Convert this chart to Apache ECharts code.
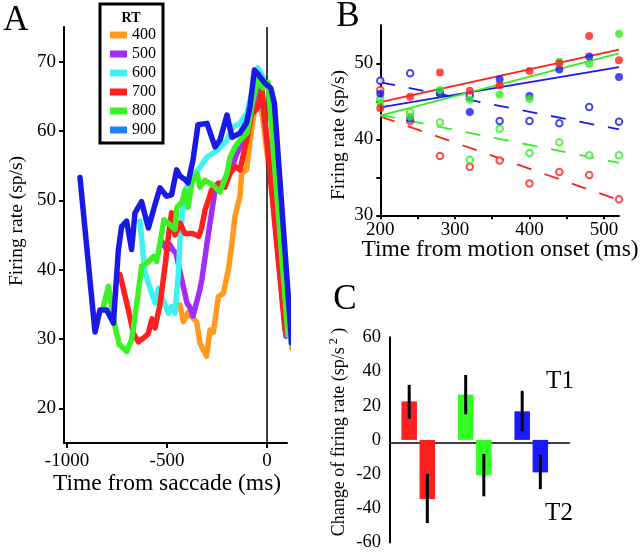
<!DOCTYPE html>
<html><head><meta charset="utf-8">
<script src="https://cdn.jsdelivr.net/npm/echarts@6/dist/echarts.min.js"></script>
<style>html,body{margin:0;padding:0;background:#fff}#c{width:640px;height:552px}</style>
</head><body><div id="c"></div>
<script>
// ---------- Panel A data: firing rate vs time from saccade, by RT ----------
const rtLabels = ['400','500','600','700','800','900'];
const rt400T = [-435,-418,-395,-377,-352,-335,-302,-285,-268,-243,-218,-193,-177,-160,-135,-127,-102,-77,-60,-42,125];
const rt400V = [34.9,32.5,33.8,33.2,32.5,29.4,27.5,31.3,31.0,36.1,36.6,40.0,43.4,47.7,50.6,53.9,54.4,60.2,63.5,66.4,28.6];
const rt500T = [-525,-500,-485,-470,-455,-425,-400,-385,-370,-350,-335,-325,-300,-285,-260,-225,-185,-150,-100,-50,-20,5,95];
const rt500V = [44.0,42.8,43.6,42.8,42.4,38.4,35.2,34.5,33.3,35.5,37.2,38.7,43.8,46.7,51.4,52.5,53.9,56.8,59.7,66.4,63.5,57.7,30.4];
const rt600T = [-635,-610,-560,-543,-493,-477,-460,-443,-435,-425,-410,-375,-335,-300,-250,-200,-170,-135,-100,-70,-45,-20,5,123];
const rt600V = [47.0,39.5,35.2,37.3,33.7,34.7,33.7,39.5,44.3,47.5,51.4,53.3,54.8,56.2,57.2,58.7,60.6,61.1,62.6,66.4,69.1,67.8,67.0,29.2];
const rt700T = [-735,-693,-668,-643,-620,-595,-575,-560,-535,-510,-493,-477,-460,-435,-410,-370,-342,-327,-310,-292,-277,-243,-210,-185,-160,-135,-98,-78,-53,-35,-25,90];
const rt700V = [39.3,34.2,30.8,29.6,30.1,30.7,32.9,31.6,35.0,40.5,44.8,48.2,45.0,46.7,45.2,45.2,44.8,46.0,48.6,50.1,51.5,52.5,51.9,53.9,54.9,54.4,59.2,62.4,63.1,64.5,66.0,31.3];
const rt800T = [-818,-793,-785,-760,-738,-702,-677,-648,-627,-598,-568,-552,-535,-515,-493,-460,-450,-425,-410,-395,-375,-350,-335,-310,-270,-235,-200,-185,-160,-135,-100,-70,-45,-20,5,105];
const rt800V = [34.7,37.6,36.1,31.8,29.2,28.2,29.9,35.7,40.5,41.0,41.9,41.2,43.8,47.2,46.7,45.8,49.0,49.7,51.4,49.0,52.6,53.9,51.9,52.9,52.2,51.2,53.9,56.2,57.7,58.7,59.7,64.5,67.4,66.2,67.0,30.5];
const rt900T = [-935,-860,-835,-802,-768,-743,-727,-702,-677,-660,-627,-593,-560,-535,-502,-477,-452,-435,-410,-395,-370,-345,-300,-260,-235,-200,-175,-135,-102,-85,-63,-42,-11,19,37,123];
const rt900V = [53.3,31.0,34.2,34.2,32.3,42.9,46.2,47.0,42.9,48.2,49.8,46.0,49.4,51.8,50.6,50.8,54.4,53.5,53.0,52.5,55.8,60.9,61.1,57.7,58.7,62.3,59.1,59.7,61.2,63.5,68.8,68.1,66.9,66.2,64.0,29.4];
const aXTicks = [-1000,-500,0];
const aYTicks = [20,30,40,50,60,70];

// ---------- Panel B data: firing rate vs time from motion onset ----------
const motionT = [200,240,280,320,360,400,440,480,520];
const redT1   = [44.1,45.6,48.8,46.4,47.1,49.0,50.0,53.6,50.4];
const redT2   = [46.5,42.4,37.8,36.4,37.2,34.2,35.7,35.3,32.1];
const greenT1 = [44.8,43.0,46.5,45.2,45.9,45.3,50.2,49.9,53.9];
const greenT2 = [45.3,43.6,42.2,37.3,41.4,38.2,39.6,37.9,37.9];
const blueT1  = [46.0,42.7,46.2,43.6,47.9,45.7,49.2,50.9,48.2];
const blueT2  = [47.7,48.7,46.0,45.8,42.4,42.4,42.1,44.25,42.3];
const fitT = [200,520];
const redFitT1 = [44.9,51.8];
const greenFitT1 = [43.1,51.3];
const blueFitT1 = [44.2,49.5];
const redFitT2 = [43.0,32.0];
const greenFitT2 = [43.2,36.9];
const blueFitT2 = [47.5,41.3];
const bXTicks = [200,250,300,350,400,450,500];
const bXLabels = [200,300,400,500];
const bYTicks = [30,35,40,45,50];
const bYLabels = [30,40,50];

// ---------- Panel C data: change of firing rate ----------
const cGroups = ['red','green','blue'];
const cT1 = [22.5,26.5,16.7];
const cT2 = [-34.5,-20.6,-19.0];
const cT1Lo = [12.4,15.0,5.1];
const cT1Hi = [32.2,38.0,28.7];
const cT2Lo = [-48.6,-33.0,-28.8];
const cT2Hi = [-20.0,-8.2,-8.6];

// ---------- styles ----------
const SERIF = 'Liberation Serif';
const rtLineColors = ['#ff9a1e','#a12ef7','#3ff2f2','#ff1f1f','#3cf226','#1a1ae6'];
const rtLegendColors = ['#ff9a1e','#a12ef7','#3ff2f2','#ff1f1f','#3cf226','#1f80ff'];
const C = {red:'#ff1f1f', green:'#33ee22', blue:'#1a1aee'};
const cBarColors = ['#ff1f1f','#33ff22','#1a1aff'];
const BARW = 15.5, GAPPCT = 17;
const OFF = BARW/2 + BARW*GAPPCT/100/2;

const zip = (a,b) => a.map((x,i)=>[x,b[i]]);

const aSeriesData = [[rt400T,rt400V],[rt500T,rt500V],[rt600T,rt600V],[rt700T,rt700V],[rt800T,rt800V],[rt900T,rt900V]];
const series = [];
aSeriesData.forEach((d,i)=>{
  series.push({
    name: rtLabels[i], type:'line', xAxisIndex:0, yAxisIndex:0,
    data: zip(d[0],d[1]), showSymbol:false, symbol:'none', clip:false,
    lineStyle:{width:5.5, color:rtLineColors[i], join:'round', cap:'round'},
    itemStyle:{color:rtLineColors[i]}, z: 2+i, silent:true,
    markLine: i===0 ? {silent:true, symbol:'none', label:{show:false},
      lineStyle:{color:'#000', width:1.5, type:'solid'}, data:[{xAxis:0}]} : undefined
  });
});

function fitLine(vals, color, dashed){
  return {type:'line', xAxisIndex:1, yAxisIndex:1, data: zip(fitT, vals), symbol:'none', silent:true,
    lineStyle:{width:1.8, color, type: dashed ? [15,14] : 'solid'}, z:2};
}
function pts(vals, color, open){
  return {type:'scatter', xAxisIndex:1, yAxisIndex:1, data: zip(motionT, vals), silent:true,
    symbol: open ? 'emptyCircle' : 'circle', symbolSize: open ? 6.5 : 8,
    itemStyle: open ? {color, borderColor: color, borderWidth:1.6} : {color}, z:3};
}
series.push(fitLine(redFitT2,C.red,true), fitLine(greenFitT2,C.green,true), fitLine(blueFitT2,C.blue,true));
series.push(fitLine(blueFitT1,C.blue,false), fitLine(greenFitT1,C.green,false), fitLine(redFitT1,C.red,false));
series.push(pts(redT2,C.red,true), pts(greenT2,C.green,true), pts(blueT2,C.blue,true));
series.push(pts(blueT1,C.blue,false), pts(greenT1,C.green,false), pts(redT1,C.red,false));

series.push({type:'bar', name:'T1', xAxisIndex:2, yAxisIndex:2, barWidth:BARW, barGap:GAPPCT+'%', silent:true,
  data: cT1.map((v,i)=>({value:v, itemStyle:{color:cBarColors[i]}}))});
series.push({type:'bar', name:'T2', xAxisIndex:2, yAxisIndex:2, barWidth:BARW, barGap:GAPPCT+'%', silent:true,
  data: cT2.map((v,i)=>({value:v, itemStyle:{color:cBarColors[i]}}))});
function errSeries(lo, hi, sign){
  return {type:'custom', xAxisIndex:2, yAxisIndex:2, silent:true, z:5,
    data: lo.map((l,i)=>[i,l,hi[i]]), encode:{x:0, y:[1,2]},
    renderItem:(params, api)=>{
      const i = api.value(0);
      const a = api.coord([i, api.value(1)]);
      const b = api.coord([i, api.value(2)]);
      return {type:'line', shape:{x1:a[0]+sign*OFF, y1:a[1], x2:b[0]+sign*OFF, y2:b[1]},
        style:{stroke:'#000', lineWidth:3}};
    }};
}
series.push(errSeries(cT1Lo,cT1Hi,-1), errSeries(cT2Lo,cT2Hi,1));

const axLine = {show:true, onZero:false, lineStyle:{color:'#000', width:2}};
const tickStyle = {color:'#000', width:2};
const lab = (extra)=>Object.assign({fontFamily:SERIF, color:'#000', fontSize:19, formatter:(v)=>String(v)}, extra);

const option = {
  animation:false,
  backgroundColor:'#fff',
  grid:[
    {left:64, top:27, width:223, height:416},
    {left:380.3, top:25.3, width:238.7, height:190},
    {left:390, top:337.3, width:169.5, height:210},
    {left:390, top:337.3, width:179.3, height:210}
  ],
  xAxis:[
    {gridIndex:0, type:'value', min:-1015, max:100, axisLine:axLine,
      axisTick:{customValues:aXTicks, length:5, lineStyle:tickStyle},
      axisLabel:lab({customValues:aXTicks, margin:9}), splitLine:{show:false}},
    {gridIndex:1, type:'value', min:200, max:520, axisLine:axLine,
      axisTick:{customValues:bXTicks, length:4, lineStyle:tickStyle},
      axisLabel:lab({customValues:bXLabels, margin:5}), splitLine:{show:false}},
    {gridIndex:2, type:'category', data:cGroups, axisLine:{show:false}, axisTick:{show:false},
      axisLabel:{show:false}, splitLine:{show:false}},
    {gridIndex:3, type:'value', min:0, max:1, axisLine:{show:true, onZero:true, lineStyle:{color:'#000', width:1.5}},
      axisTick:{show:false}, axisLabel:{show:false}, splitLine:{show:false}}
  ],
  yAxis:[
    {gridIndex:0, type:'value', min:15, max:75, axisLine:axLine,
      axisTick:{customValues:aYTicks, length:5, lineStyle:tickStyle},
      axisLabel:lab({customValues:aYTicks, margin:8}), splitLine:{show:false}},
    {gridIndex:1, type:'value', min:30, max:55, axisLine:axLine,
      axisTick:{customValues:bYTicks, length:4, lineStyle:tickStyle},
      axisLabel:lab({customValues:bYLabels, margin:7}), splitLine:{show:false}},
    {gridIndex:2, type:'value', min:-60, max:60, interval:20, axisLine:axLine,
      axisTick:{length:4, lineStyle:tickStyle},
      axisLabel:lab({fontSize:18.5, margin:9}), splitLine:{show:false}},
    {gridIndex:3, type:'value', min:-60, max:60, show:false, splitLine:{show:false}}
  ],
  legend:{
    data: rtLabels.map((n,i)=>({name:n, itemStyle:{color:rtLegendColors[i]}})),
    orient:'vertical', left:100, top:4, padding:[23,7,5,10], itemGap:3,
    itemWidth:17, itemHeight:7, icon:'rect', borderColor:'#000', borderWidth:3,
    backgroundColor:'#fff', selectedMode:false, z:10,
    textStyle:{fontSize:16, fontFamily:SERIF, color:'#000'}
  },
  graphic:[
    {type:'text', x:16, y:21, style:{text:'A', font:'35px "Liberation Serif"', fill:'#000', align:'center', verticalAlign:'middle'}},
    {type:'text', x:348, y:17, style:{text:'B', font:'35px "Liberation Serif"', fill:'#000', align:'center', verticalAlign:'middle'}},
    {type:'text', x:345, y:300, style:{text:'C', font:'35px "Liberation Serif"', fill:'#000', align:'center', verticalAlign:'middle'}},
    {type:'text', x:131, y:18, z:20, style:{text:'RT', font:'bold 14px "Liberation Serif"', fill:'#000', align:'center', verticalAlign:'middle'}},
    {type:'text', x:167, y:484, style:{text:'Time from saccade (ms)', font:'23.5px "Liberation Serif"', fill:'#000', align:'center', verticalAlign:'middle'}},
    {type:'text', x:17, y:221, rotation:Math.PI/2, style:{text:'Firing rate (sp/s)', font:'19.5px "Liberation Serif"', fill:'#000', align:'center', verticalAlign:'middle'}},
    {type:'text', x:500, y:250, style:{text:'Time from motion onset (ms)', font:'23.5px "Liberation Serif"', fill:'#000', align:'center', verticalAlign:'middle'}},
    {type:'text', x:339, y:135, rotation:Math.PI/2, style:{text:'Firing rate (sp/s)', font:'19.5px "Liberation Serif"', fill:'#000', align:'center', verticalAlign:'middle'}},
    {type:'text', x:339, y:432, rotation:Math.PI/2, style:{
      text:'{a|Change of firing rate (sp/s}{s| 2}{a| )}', align:'center', verticalAlign:'middle',
      rich:{a:{fontFamily:SERIF, fontSize:18, fill:'#000', lineHeight:22},
            s:{fontFamily:SERIF, fontSize:12, fill:'#000', lineHeight:22, verticalAlign:'top'}}}},
    {type:'text', x:560, y:381, style:{text:'T1', font:'25px "Liberation Serif"', fill:'#000', align:'center', verticalAlign:'middle'}},
    {type:'text', x:559, y:513, style:{text:'T2', font:'25px "Liberation Serif"', fill:'#000', align:'center', verticalAlign:'middle'}}
  ],
  series
};
const chart = echarts.init(document.getElementById('c'), null, {renderer:'canvas'});
chart.setOption(option);
</script></body></html>
